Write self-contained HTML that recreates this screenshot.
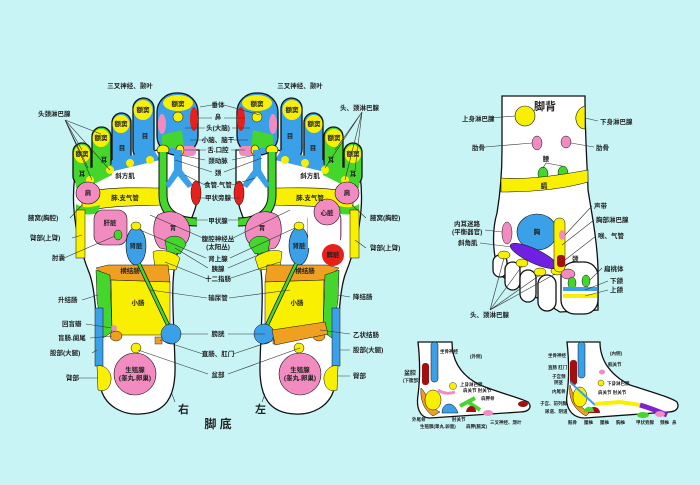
<!DOCTYPE html>
<html><head><meta charset="utf-8"><style>
html,body{margin:0;padding:0;background:#c8f4f6}
svg{display:block}
text{font-family:"Liberation Sans","Noto Sans CJK SC",sans-serif;font-weight:bold;fill:#222}
.s{font-size:6.5px}.m{font-size:7px}
.l{stroke:#333;stroke-width:0.6;fill:none}
.o{stroke:#111;stroke-width:1.3}
</style></head><body>
<svg width="700" height="485" viewBox="0 0 700 485" xmlns="http://www.w3.org/2000/svg">
<rect width="700" height="485" fill="#c8f4f6"/>
<defs>
<g id="f">
 <path class="o" fill="#fff" d="M75,175 C70,210 78,245 90,275 C98,300 96,345 100,385 C104,408 125,415 140,414 C165,413 176,398 175,365 C174,320 170,285 176,258 C183,232 199,212 199,185 L199,150 L157,150 L140,156 L120,164 L100,172 L82,180 Z"/>
 <!-- toes -->
 <rect class="o" x="73" y="143" width="18" height="42" rx="9" fill="#44d62c"/>
 <ellipse cx="82" cy="154" rx="8" ry="9" fill="#f8f000"/>
 <rect class="o" x="92" y="127" width="19" height="50" rx="9.5" fill="#44d62c"/>
 <ellipse cx="101" cy="138" rx="8.5" ry="9" fill="#f8f000"/>
 <rect class="o" x="112" y="113" width="19" height="55" rx="9.5" fill="#3aa0e8"/>
 <ellipse cx="121" cy="124" rx="8.5" ry="9" fill="#f8f000"/>
 <rect class="o" x="133" y="98" width="21" height="62" rx="10.5" fill="#3aa0e8"/>
 <ellipse cx="143" cy="110" rx="9.5" ry="10" fill="#f8f000"/>
 <path fill="#44d62c" d="M74,170 L112,165 L112,175 L92,185 L76,188 Z"/>
 <path fill="#3aa0e8" d="M112,160 L154,150 L160,160 L110,172 Z"/>
 <circle cx="90" cy="180" r="4" fill="#f8f000"/><circle cx="110" cy="170" r="4" fill="#f8f000"/>
 <circle cx="130" cy="163" r="4" fill="#f8f000"/><circle cx="150" cy="160" r="4" fill="#f8f000"/>
 <rect class="o" x="157" y="93" width="41" height="62" rx="19" fill="#3aa0e8"/>
 <ellipse cx="178" cy="103" rx="15" ry="8" fill="#f8f000"/>
 <ellipse cx="162" cy="124" rx="4" ry="10" fill="#f28cc0"/>
 <ellipse cx="194" cy="119" rx="4" ry="12" fill="#e8201c"/>
 <circle cx="178" cy="117" r="5" fill="#f8f000" stroke="#111" stroke-width="0.5"/>
 <path fill="#44d62c" d="M162,135 L182,130 L184,148 L162,148 Z"/>
 <rect x="176" y="146" width="20" height="10" rx="4" fill="#f28cc0"/>
 <ellipse cx="163" cy="150" rx="6" ry="5" fill="#f8f000" stroke="#111" stroke-width="0.6"/>
 <ellipse cx="180" cy="150" rx="4" ry="5" fill="#f8f000" stroke="#111" stroke-width="0.6"/>
 <!-- lung band, shoulder -->
 <path fill="#f8f000" stroke="#111" stroke-width="0.6" d="M82,193 C110,186 140,188 160,188 L162,205 C140,206 110,205 82,212 Z"/>
 <ellipse cx="88" cy="193" rx="12" ry="11" fill="#f28cc0" stroke="#111" stroke-width="0.6"/>
 <path fill="#44d62c" d="M76,204 C85,210 95,206 100,205 L98,213 C88,216 80,214 76,210 Z"/>
 <rect x="76" y="210" width="9" height="48" fill="#f8f000" stroke="#111" stroke-width="0.5"/>
 <!-- green U tube -->
 <path fill="none" stroke="#111" stroke-width="9" d="M163,152 L163,195 C163,215 180,222 197,222"/>
 <path fill="none" stroke="#44d62c" stroke-width="7" d="M163,152 L163,195 C163,215 180,222 197,222"/>
 <path fill="#3aa0e8" d="M174,150 L182,150 L182,170 L193,185 L188,188 L178,176 L169,188 L165,185 L174,170 Z"/>
 <ellipse cx="196" cy="193" rx="5" ry="12" fill="#e8201c" stroke="#111" stroke-width="0.5"/>
 <!-- organs -->
 <rect x="94" y="210" width="33" height="35" rx="9" fill="#f28cc0" stroke="#111" stroke-width="0.6"/>
 <ellipse cx="118" cy="235" rx="4" ry="5" fill="#44d62c" stroke="#111" stroke-width="0.5"/>
 <path fill="#f28cc0" stroke="#111" stroke-width="0.6" d="M158,215 C170,208 188,212 190,230 C190,248 175,252 160,248 C152,240 152,222 158,215 Z"/>
 <path fill="#44d62c" stroke="#111" stroke-width="0.5" d="M165,240 C172,233 185,236 186,245 L180,254 L167,252 Z"/>
 <path fill="#f8f000" stroke="#111" stroke-width="0.5" d="M153,252 C160,248 175,252 180,258 L176,270 L155,268 Z"/>
 <ellipse cx="136" cy="246" rx="10" ry="19" fill="#3aa0e8" stroke="#111" stroke-width="0.6"/>
 <ellipse cx="136" cy="226" rx="5" ry="4" fill="#f8f000" stroke="#111" stroke-width="0.5"/>
 <path fill="#f0a020" stroke="#111" stroke-width="0.5" d="M96,268 L108,265 L168,265 L170,282 L110,280 Z"/>
 <path fill="#44d62c" stroke="#111" stroke-width="0.5" d="M96,270 L110,275 L112,332 L103,338 L97,300 Z"/>
 <path fill="#f8f000" stroke="#111" stroke-width="0.5" d="M111,280 L170,282 L170,325 L162,335 L118,335 L112,330 Z"/>
 <line x1="139" y1="264" x2="168" y2="325" stroke="#111" stroke-width="4"/>
 <line x1="139" y1="264" x2="168" y2="325" stroke="#44d62c" stroke-width="2.6"/>
 <circle cx="171" cy="334" r="10" fill="#3aa0e8" stroke="#111" stroke-width="0.5"/>
 <ellipse cx="116" cy="336" rx="6" ry="5" fill="#f0a020" stroke="#111" stroke-width="0.5"/>
 <circle cx="114" cy="328" r="3" fill="#f28cc0"/>
 <rect x="155" y="337" width="7" height="7" fill="#f0a020" stroke="#111" stroke-width="0.4"/>
 <rect x="95" y="308" width="8" height="58" fill="#3aa0e8" stroke="#111" stroke-width="0.5"/>
 <path fill="#f8f000" stroke="#111" stroke-width="0.5" d="M97,366 C105,364 112,372 111,380 C110,390 103,392 98,390 Z"/>
 <circle cx="135" cy="374" r="21" fill="#f28cc0" stroke="#111" stroke-width="0.6"/>
 <circle cx="136" cy="348" r="5" fill="#f8f000" stroke="#111" stroke-width="0.5"/>
</g>
</defs>
<use href="#f"/>
<use href="#f" transform="translate(435,0) scale(-1,1)"/>
<!-- left foot specifics -->
<rect x="308" y="208" width="32" height="40" fill="#fff"/>
<circle cx="327" cy="212" r="13" fill="#f28cc0" stroke="#111" stroke-width="0.6"/>
<circle cx="333" cy="255" r="11" fill="#e8201c"/>
<path fill="#f0a020" stroke="#111" stroke-width="0.5" d="M272,330 L325,322 L328,334 L275,345 Z"/>
<!-- foot region labels -->
<g class="s" text-anchor="middle">
<text x="178" y="106">额窦</text><text x="143" y="112">额窦</text><text x="121" y="126">额窦</text><text x="101" y="140">额窦</text><text x="82" y="156">额窦</text>
<text x="257" y="106">额窦</text><text x="292" y="112">额窦</text><text x="314" y="126">额窦</text><text x="334" y="140">额窦</text><text x="353" y="156">额窦</text>
<text x="145" y="138">目</text><text x="122" y="150">目</text><text x="104" y="162">耳</text><text x="82" y="176">耳</text>
<text x="290" y="138">目</text><text x="313" y="150">目</text><text x="331" y="162">耳</text><text x="353" y="176">耳</text>
<text x="125" y="178">斜方肌</text><text x="310" y="178">斜方肌</text>
<text x="125" y="200">肺.支气管</text><text x="310" y="200">肺.支气管</text>
<text x="88" y="195">肩</text><text x="347" y="195">肩</text>
<text x="110" y="225">肝脏</text><text x="173" y="230">胃</text><text x="262" y="230">胃</text>
<text x="136" y="248">肾脏</text><text x="299" y="248">肾脏</text>
<text x="327" y="215">心脏</text><text x="333" y="257" fill="#fff">脾脏</text>
<text x="130" y="273">横结肠</text><text x="305" y="273">横结肠</text>
<text x="138" y="305">小肠</text><text x="297" y="305">小肠</text>
<text x="135" y="372">生殖腺</text><text x="135" y="380">(睾丸.卵巢)</text>
<text x="300" y="372">生殖腺</text><text x="300" y="380">(睾丸.卵巢)</text>
</g>
<!-- middle labels -->
<g class="s" text-anchor="middle">
<text x="218" y="107">垂体</text><text x="218" y="119">鼻</text><text x="218" y="130">头(大脑)</text>
<text x="218" y="142">小脑、脑干</text><text x="218" y="152">舌.口腔</text><text x="218" y="163">颈动脉</text>
<text x="218" y="175">颈</text><text x="218" y="187">食管.气管</text><text x="218" y="200">甲状旁腺</text>
<text x="218" y="223">甲状腺</text><text x="218" y="241">腹腔神经丛</text><text x="218" y="249">(太阳丛)</text>
<text x="218" y="261">肾上腺</text><text x="218" y="271">胰腺</text><text x="218" y="281">十二指肠</text>
<text x="218" y="300">输尿管</text><text x="218" y="336">膀胱</text><text x="218" y="356">直肠、肛门</text>
<text x="218" y="377">盆部</text>
<text x="130" y="88">三叉神经、颞叶</text><text x="300" y="88">三叉神经、颞叶</text>
</g>
<g class="s">
<text x="38" y="116">头颈淋巴腺</text><text x="340" y="110">头、颈淋巴腺</text>
<text x="28" y="220">腋窝(胸腔)</text><text x="30" y="240">臂部(上臂)</text><text x="52" y="260">肘囊</text>
<text x="58" y="302">升结肠</text><text x="62" y="326">回盲瓣</text><text x="58" y="340">盲肠.阑尾</text>
<text x="50" y="355">股部(大腿)</text><text x="66" y="380">臂部</text>
<text x="370" y="220">腋窝(胸腔)</text><text x="370" y="250">臂部(上臂)</text><text x="353" y="299">降结肠</text>
<text x="353" y="337">乙状结肠</text><text x="353" y="352">股部(大腿)</text><text x="353" y="378">臀部</text>
</g>
<g class="l">
<path d="M200,107 L212,105 M224,105 L260,115 M198,118 L212,118 M224,118 L245,118 M185,128 L205,128 M232,128 L250,128 M190,140 L205,140 M234,140 L248,140 M185,150 L206,150 M231,150 L245,150 M180,155 L205,160 M232,160 L255,155 M175,160 L212,172 M224,172 L262,158 M185,175 L205,185 M232,185 L255,178 M198,198 L206,198 M230,198 L240,198 M195,220 L208,220 M228,220 L240,220 M150,215 L203,238 M233,238 L290,210 M140,230 L206,258 M230,258 L295,228 M175,248 L208,268 M228,268 L270,250 M165,262 L205,278 M231,278 L280,262 M150,290 L207,298 M229,298 L290,290 M180,334 L208,334 M228,334 L265,334 M160,340 L203,354 M233,354 L275,340 M138,350 L208,374 M228,374 L300,348"/>
<path d="M65,120 L82,150 M65,120 L101,134 M65,120 L92,180 M65,120 L88,168 M65,120 L110,170"/>
<path d="M362,112 L335,150 M362,112 L355,170 M362,112 L345,180 M362,112 L325,168"/>
<path d="M70,218 L82,205 M72,238 L82,235 M64,258 L115,236 M82,300 L98,295 M86,324 L112,328 M90,338 L112,336 M92,353 L97,350 M78,378 L98,378"/>
<path d="M366,218 L352,205 M366,248 L355,240 M350,297 L338,295 M350,334 L320,330 M350,350 L340,350 M350,376 L338,376"/>
</g>
<text x="178" y="413" style="font-size:11px">右</text><text x="255" y="413" style="font-size:11px">左</text>
<text x="218" y="428" text-anchor="middle" style="font-size:12px">脚 底</text>
<path class="l" d="M175,402 L172,394 M262,402 L265,394"/>

<!-- dorsal foot -->
<path class="o" fill="#fff" d="M502,96 L585,96 C585,140 588,180 588,190 C592,215 597,240 598,268 L598,310 L560,312 L500,275 C492,255 492,230 497,213 C500,195 502,170 502,150 Z"/>
<g class="o" fill="#fff">
<rect x="493" y="255" width="14" height="22" rx="7"/><rect x="505" y="262" width="15" height="28" rx="7.5"/>
<rect x="520" y="270" width="16" height="32" rx="8"/><rect x="538" y="275" width="18" height="36" rx="9"/>
<rect x="561" y="262" width="37" height="52" rx="14"/>
</g>
<ellipse cx="504" cy="255" rx="6" ry="4" fill="#f8f000" stroke="#111" stroke-width="0.5"/>
<ellipse cx="522" cy="263" rx="6" ry="4" fill="#f8f000" stroke="#111" stroke-width="0.5"/>
<ellipse cx="540" cy="272" rx="6" ry="4" fill="#f8f000" stroke="#111" stroke-width="0.5"/>
<ellipse cx="557" cy="271" rx="6" ry="4" fill="#f8f000" stroke="#111" stroke-width="0.5"/>
<circle cx="525" cy="116" r="10" fill="#f8f000" stroke="#111" stroke-width="0.6"/>
<path d="M585,106 C578,108 575,115 576,120 C577,126 581,129 585,129 Z" fill="#f8f000" stroke="#111" stroke-width="0.6"/>
<ellipse cx="537" cy="143" rx="5" ry="7" fill="#f28cc0" stroke="#111" stroke-width="0.5"/>
<ellipse cx="566" cy="142" rx="5" ry="6" fill="#f28cc0" stroke="#111" stroke-width="0.5"/>
<ellipse cx="543" cy="174" rx="5" ry="7" fill="#44d62c" stroke="#111" stroke-width="0.5"/>
<ellipse cx="563" cy="173" rx="5" ry="7" fill="#44d62c" stroke="#111" stroke-width="0.5"/>
<path d="M501,178 C530,180 560,175 588,170 L588,182 C560,190 530,192 501,192 Z" fill="#f8f000" stroke="#111" stroke-width="0.6"/>
<ellipse cx="537" cy="232" rx="20" ry="18" fill="#3aa0e8" stroke="#111" stroke-width="0.6"/>
<ellipse cx="507" cy="233" rx="5" ry="11" fill="#f28cc0" stroke="#111" stroke-width="0.5"/>
<ellipse cx="534" cy="256" rx="26" ry="7" transform="rotate(25 534 256)" fill="#7020e0" stroke="#111" stroke-width="0.5"/>
<rect x="554" y="218" width="11" height="54" rx="5" fill="#f8f000" stroke="#111" stroke-width="0.5"/>
<ellipse cx="562" cy="235" rx="3" ry="5" fill="#f28cc0"/>
<rect x="557" y="255" width="8" height="12" rx="3" fill="#a01010"/>
<ellipse cx="568" cy="274" rx="7" ry="5" fill="#f28cc0" stroke="#111" stroke-width="0.5"/>
<ellipse cx="572" cy="283" rx="4" ry="6" fill="#44d62c" stroke="#111" stroke-width="0.5"/>
<ellipse cx="586" cy="281" rx="4" ry="6" fill="#44d62c" stroke="#111" stroke-width="0.5"/>
<rect x="563" y="287" width="34" height="4" fill="#3aa0e8"/>
<rect x="563" y="294" width="34" height="4" fill="#f8f000"/>
<g class="s">
<text x="534" y="110" style="font-size:11px">脚背</text>
<text x="462" y="121">上身淋巴腺</text><text x="600" y="124">下身淋巴腺</text>
<text x="472" y="150">肋骨</text><text x="596" y="150">肋骨</text>
<text x="546" y="161" text-anchor="middle">腰</text><text x="544" y="188" text-anchor="middle">膈</text>
<text x="537" y="234" text-anchor="middle">胸</text>
<text x="454" y="226">内耳迷路</text><text x="452" y="234">(平衡器官)</text><text x="458" y="245">斜角肌</text>
<text x="594" y="208">声带</text><text x="596" y="222">胸部淋巴腺</text><text x="598" y="238">喉、气管</text>
<text x="572" y="261">颈</text><text x="604" y="271">扁桃体</text><text x="610" y="283">下颌</text><text x="610" y="292">上颌</text>
<text x="470" y="317">头、颈淋巴腺</text>
</g>
<g class="l">
<path d="M490,118 L515,116 M598,121 L585,118 M485,147 L532,143 M594,147 L571,143 M546,163 L543,168 M546,163 L562,166 M485,230 L502,232 M480,243 L512,247 M592,206 L565,235 M594,220 L562,245 M596,236 L565,260 M602,268 L590,280 M608,281 L585,290 M608,290 L585,296 M490,310 L504,258 M490,310 L522,266 M490,310 L540,275 M490,310 L555,274"/>
</g>

<!-- outer side foot -->
<path class="o" fill="#fff" d="M418,342 L452,342 C452,360 460,375 480,385 C500,393 520,398 528,402 C533,408 528,412 520,412 L430,418 C420,418 416,408 418,395 C420,380 420,360 418,342 Z"/>
<rect x="431" y="342" width="7" height="40" rx="3" fill="#3aa0e8" stroke="#111" stroke-width="0.5"/>
<rect x="422" y="363" width="7" height="22" rx="3" fill="#a01010"/>
<path d="M421,388 C428,395 432,410 440,412 L433,416 C424,410 420,400 421,388 Z" fill="#f0a020" stroke="#111" stroke-width="0.5"/>
<ellipse cx="433" cy="400" rx="8" ry="10" fill="#f8f000" stroke="#111" stroke-width="0.5"/>
<path d="M442,413 C442,402 454,400 458,413 Z" fill="#3aa0e8" stroke="#111" stroke-width="0.5"/>
<path d="M460,406 L475,398 M468,402 L480,410" stroke="#44d62c" stroke-width="4" fill="none"/>
<circle cx="453" cy="386" r="3.5" fill="#f8f000" stroke="#111" stroke-width="0.4"/>
<path d="M438,390 C445,395 452,393 455,392" stroke="#f28cc0" stroke-width="3" fill="none"/>
<path d="M466,412 C467,404 476,404 476,412 Z" fill="#a01010"/>
<ellipse cx="488" cy="413" rx="5" ry="3" fill="#f28cc0"/>
<ellipse cx="523" cy="404" rx="5" ry="3" fill="#a01010"/>
<g style="font-size:4.5px">
<text x="440" y="353">坐骨神经</text><text x="470" y="358">(外侧)</text><text x="404" y="375" style="font-size:6px">盆腔</text><text x="403" y="382">(下腹部)</text>
<text x="460" y="386">上身淋巴腺</text><text x="463" y="392">肩关节 肘关节</text><text x="481" y="400">肩胛骨</text>
<text x="412" y="421">外尾骨</text><text x="420" y="428">生殖腺(睾丸.卵巢)</text><text x="452" y="421">肘关节</text><text x="466" y="428">肩胛(腋窝)</text><text x="490" y="424">三叉神经、颞叶</text>
</g>

<!-- inner side foot -->
<path class="o" fill="#fff" d="M567,342 L600,342 C600,360 610,375 630,385 C655,393 672,398 677,402 C680,408 676,412 668,412 L585,418 C572,418 565,408 567,395 C569,380 569,360 567,342 Z"/>
<rect x="578" y="342" width="7" height="36" rx="3" fill="#3aa0e8" stroke="#111" stroke-width="0.5"/>
<rect x="570" y="360" width="7" height="25" rx="3" fill="#a01010"/>
<path d="M570,385 C574,400 582,410 590,412 L586,416 C575,410 568,400 570,385 Z" fill="#f0a020" stroke="#111" stroke-width="0.5"/>
<ellipse cx="580" cy="397" rx="7" ry="10" fill="#f8f000" stroke="#111" stroke-width="0.5"/>
<line x1="570" y1="382" x2="595" y2="405" stroke="#3aa0e8" stroke-width="2"/>
<path d="M595,404 L620,402 L640,405" stroke="#f8f000" stroke-width="4" fill="none"/>
<path d="M640,405 C650,408 660,412 667,415" stroke="#8020d0" stroke-width="5" fill="none"/>
<path d="M588,413 C588,405 600,405 600,413 Z" fill="#a01010"/>
<path d="M584,412 C584,405 594,405 594,412" fill="#44d62c"/>
<ellipse cx="643" cy="415" rx="6" ry="3" fill="#44d62c"/>
<ellipse cx="660" cy="414" rx="5" ry="3" fill="#f28cc0"/>
<ellipse cx="602" cy="372" rx="3" ry="2.5" fill="#f28cc0"/>
<circle cx="601" cy="383" r="3" fill="#f8f000" stroke="#111" stroke-width="0.4"/>
<g style="font-size:4.5px">
<text x="548" y="357">坐骨神经</text><text x="610" y="355">(内侧)</text><text x="548" y="369">直肠 肛门</text>
<text x="608" y="366">髋关节</text><text x="552" y="378">子宫颈</text><text x="554" y="384">阴茎</text><text x="607" y="385">下身淋巴腺</text>
<text x="552" y="393">内尾骨</text><text x="598" y="394">肩关节 肘关节</text><text x="540" y="405">子宫、前列腺</text><text x="545" y="413">尿道、阴道</text>
<text x="568" y="424">骶骨</text><text x="584" y="424">腰椎</text><text x="600" y="424">腰椎</text><text x="616" y="424">胸椎</text><text x="636" y="424">甲状旁腺</text><text x="660" y="424">颈椎</text><text x="672" y="424">鼻</text>
</g>
</svg>
</body></html>
